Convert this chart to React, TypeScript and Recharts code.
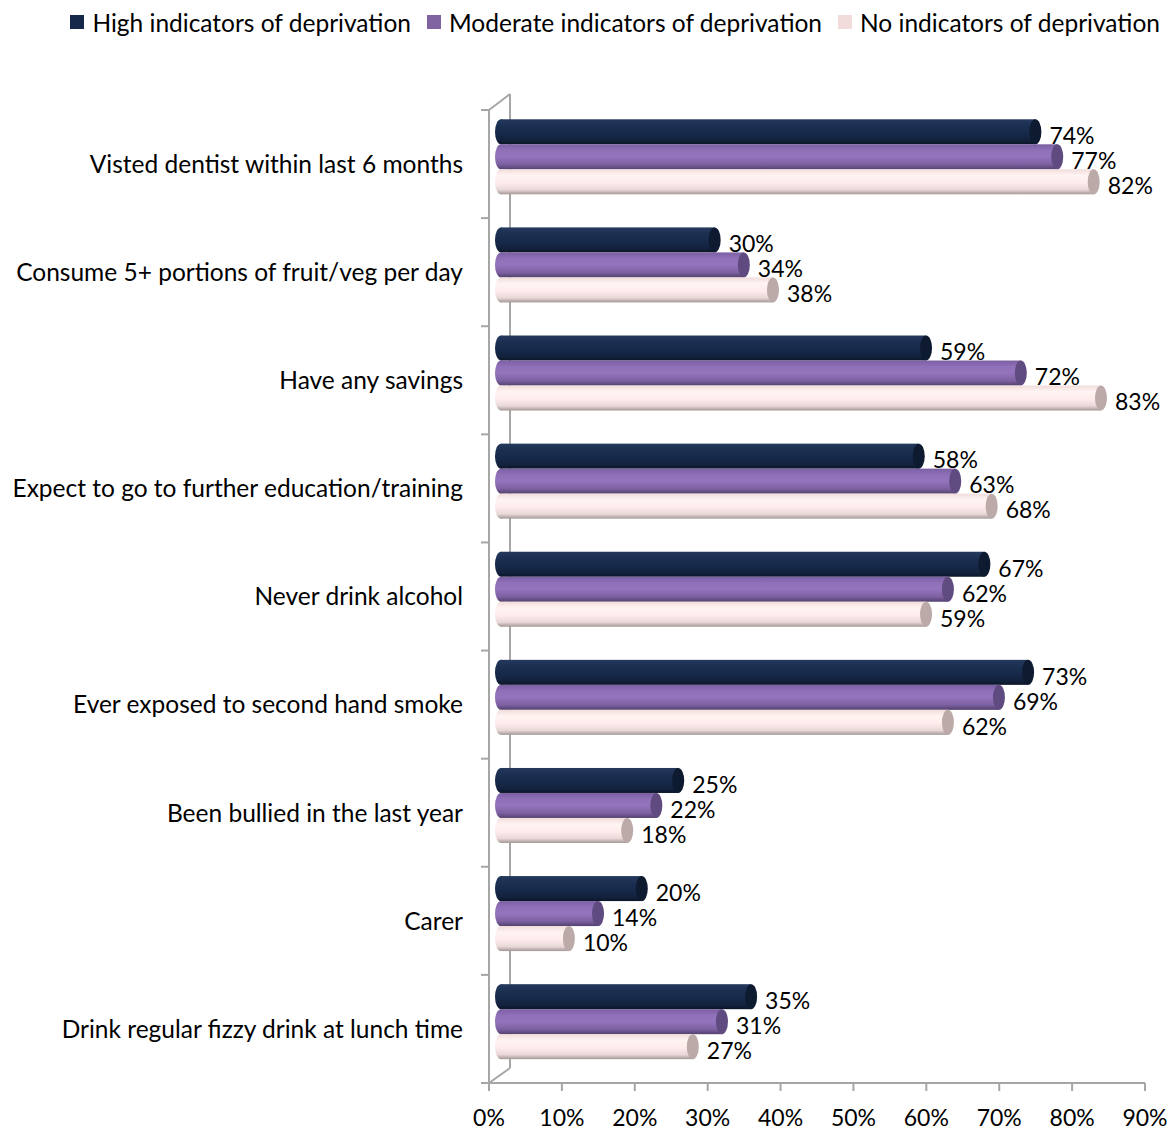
import { BarChart, Bar, XAxis, YAxis, Legend, LabelList, Customized } from 'recharts';

const categories = [
  'Visted dentist within last 6 months',
  'Consume 5+ portions of fruit/veg per day',
  'Have any savings',
  'Expect to go to further education/training',
  'Never drink alcohol',
  'Ever exposed to second hand smoke',
  'Been bullied in the last year',
  'Carer',
  'Drink regular fizzy drink at lunch time',
];
const highValues = [74, 30, 59, 58, 67, 73, 25, 20, 35];
const moderateValues = [77, 34, 72, 63, 62, 69, 22, 14, 31];
const noneValues = [82, 38, 83, 68, 59, 62, 18, 10, 27];
const xTicks = [0, 10, 20, 30, 40, 50, 60, 70, 80, 90];

const seriesNames = ['High indicators of deprivation', 'Moderate indicators of deprivation', 'No indicators of deprivation'];

const data = categories.map((name, i) => ({
  name,
  high: highValues[i],
  moderate: moderateValues[i],
  none: noneValues[i],
}));

const FONT = 'Lato, "Open Sans", sans-serif';
const W = 1174;
const H = 1130;
const PLOT_LEFT = 489;
const PLOT_TOP = 110;
const PLOT_BOTTOM = 1083;
const LEGEND_H = 30;
const XAXIS_H = 40;
const BAND = (PLOT_BOTTOM - PLOT_TOP) / categories.length;
const AXIS_GRAY = '#a6a6a6';

// 3d depth: bars sit half way into the wall
const DX = 7;
const DY = -8;
const CAP = 6;

const styles = [
  { grad: 'gHigh', cap: '#0e1a30', swatch: '#17294a' },
  { grad: 'gModerate', cap: '#5f4b80', swatch: '#8064a2' },
  { grad: 'gNone', cap: '#bcaaa9', swatch: '#f2dcdb' },
];

const makeCylinder = (idx: number) => (props: any) => {
  const { x, y, width, height } = props;
  const s = styles[idx];
  const top = y + DY;
  const cy = top + height / 2;
  const x0 = x + CAP * 2;
  const x1 = x + width + DX;
  return (
    <g>
      <ellipse cx={x0} cy={cy} rx={CAP} ry={height / 2} fill={`url(#${s.grad})`} />
      <rect x={x0} y={top} width={Math.max(0, x1 - x0)} height={height} fill={`url(#${s.grad})`} />
      <ellipse cx={x1} cy={cy} rx={CAP} ry={height / 2} fill={s.cap} />
    </g>
  );
};

const ValueLabel = (props: any) => {
  const { x, y, width, height, value } = props;
  return (
    <text x={x + width + DX + CAP + 8} y={y + DY + height / 2 + 4} dy="0.36em" fontSize={23} fontFamily={FONT} fill="#000">
      {value}%
    </text>
  );
};

const CategoryTick = (props: any) => {
  const { y, payload, index } = props;
  const last = index === categories.length - 1;
  return (
    <g>
      <text x={463} y={y} dy="0.36em" textAnchor="end" fontSize={24.5} fontFamily={FONT} fill="#000">
        {payload.value}
      </text>
      <line x1={481} x2={PLOT_LEFT} y1={y - BAND / 2} y2={y - BAND / 2} stroke={AXIS_GRAY} strokeWidth={2} />
      {last && <line x1={481} x2={PLOT_LEFT} y1={y + BAND / 2} y2={y + BAND / 2} stroke={AXIS_GRAY} strokeWidth={2} />}
    </g>
  );
};

const Wall = () => (
  <g stroke={AXIS_GRAY} strokeWidth={2} fill="none">
    <line x1={PLOT_LEFT} y1={PLOT_TOP} x2={510} y2={94} />
    <line x1={510} y1={94} x2={510} y2={1068} />
    <line x1={PLOT_LEFT} y1={PLOT_BOTTOM} x2={510} y2={1068} />
  </g>
);

const LegendContent = () => (
  <div style={{ height: LEGEND_H, display: 'flex', justifyContent: 'flex-end', alignItems: 'center', paddingRight: 14, fontFamily: FONT, fontSize: 24.5, color: '#000' }}>
    {seriesNames.map((n, i) => (
      <div key={n} style={{ display: 'flex', alignItems: 'center', marginLeft: 16 }}>
        <span style={{ width: 14, height: 14, background: styles[i].swatch, marginRight: 8 }} />
        <span>{n}</span>
      </div>
    ))}
  </div>
);

export default function App() {
  return (
    <div style={{ position: 'absolute', left: 0, top: 0, background: '#fff' }}>
      <BarChart
        width={W}
        height={H}
        data={data}
        layout="vertical"
        margin={{ top: PLOT_TOP - LEGEND_H, right: W - 1145, bottom: H - PLOT_BOTTOM - XAXIS_H, left: 9 }}
        barCategoryGap="16%"
        barGap={0}
      >
        <defs>
          <linearGradient id="gHigh" x1="0" y1="0" x2="0" y2="1">
            <stop offset="0%" stopColor="#24395c" />
            <stop offset="20%" stopColor="#1c3153" />
            <stop offset="55%" stopColor="#17294a" />
            <stop offset="85%" stopColor="#12213c" />
            <stop offset="100%" stopColor="#0b1526" />
          </linearGradient>
          <linearGradient id="gModerate" x1="0" y1="0" x2="0" y2="1">
            <stop offset="0%" stopColor="#7b5fa3" />
            <stop offset="25%" stopColor="#9070b8" />
            <stop offset="50%" stopColor="#9474bc" />
            <stop offset="80%" stopColor="#7d61a2" />
            <stop offset="100%" stopColor="#54416e" />
          </linearGradient>
          <linearGradient id="gNone" x1="0" y1="0" x2="0" y2="1">
            <stop offset="0%" stopColor="#f0dcdb" />
            <stop offset="25%" stopColor="#fff4f2" />
            <stop offset="55%" stopColor="#fdeceb" />
            <stop offset="82%" stopColor="#e8d8d7" />
            <stop offset="100%" stopColor="#a49797" />
          </linearGradient>
        </defs>
        <Customized component={Wall} />
        <Legend verticalAlign="top" height={LEGEND_H} content={<LegendContent />} wrapperStyle={{ top: 7, left: 0, width: W }} />
        <XAxis
          type="number"
          domain={[0, 90]}
          ticks={xTicks}
          tickFormatter={(v: number) => `${v}%`}
          height={XAXIS_H}
          stroke={AXIS_GRAY}
          strokeWidth={2}
          tickSize={8}
          tickMargin={19}
          tick={{ fill: '#000', fontSize: 23, fontFamily: FONT }}
          interval={0}
        />
        <YAxis
          type="category"
          dataKey="name"
          width={480}
          stroke={AXIS_GRAY}
          strokeWidth={2}
          tickLine={false}
          tick={<CategoryTick />}
          interval={0}
        />
        <Bar dataKey="high" name={seriesNames[0]} fill={styles[0].swatch} shape={makeCylinder(0)} isAnimationActive={false}>
          <LabelList dataKey="high" content={<ValueLabel />} />
        </Bar>
        <Bar dataKey="moderate" name={seriesNames[1]} fill={styles[1].swatch} shape={makeCylinder(1)} isAnimationActive={false}>
          <LabelList dataKey="moderate" content={<ValueLabel />} />
        </Bar>
        <Bar dataKey="none" name={seriesNames[2]} fill={styles[2].swatch} shape={makeCylinder(2)} isAnimationActive={false}>
          <LabelList dataKey="none" content={<ValueLabel />} />
        </Bar>
      </BarChart>
    </div>
  );
}
